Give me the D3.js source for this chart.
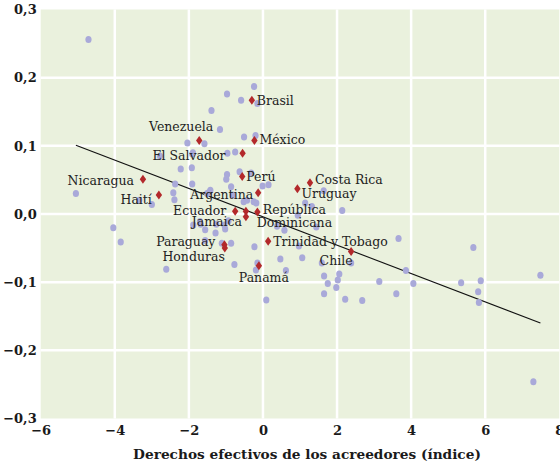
<!DOCTYPE html>
<html><head><meta charset="utf-8">
<script src="https://cdn.jsdelivr.net/npm/d3@7"></script>
<style>body{margin:0;background:#fff}svg{display:block}</style>
</head><body>
<svg id="c" width="560" height="465"></svg>
<script>
// ---- data ----
const xTicks = [-6,-4,-2,0,2,4,6,8];
const yTicks = [-0.3,-0.2,-0.1,0,0.1,0.2,0.3];
const xLabel = "Derechos efectivos de los acreedores (índice)";

// other countries (blue dots)
const otherX = [-4.71,-0.24,-0.97,-0.59,-0.15,-1.39,-1.16,-0.51,-0.20,-2.04,-1.58,
  -5.05,-2.78,-1.91,-0.96,-0.75,-2.22,-1.92,-0.97,-0.99,-0.63,-0.32,-2.37,-1.91,-1.42,-0.86,-0.01,0.15,
  -2.42,-2.39,-1.47,-0.82,-0.52,-0.43,-0.25,-0.18,-3.00,-3.34,-1.89,-1.51,
  1.64,2.14,1.14,1.32,0.94,0.58,1.44,3.66,0.97,1.06,0.47,1.59,2.38,0.62,1.65,2.06,2.02,1.75,1.98,1.65,2.22,2.68,
  3.14,3.60,3.86,4.06,5.35,5.68,5.88,5.81,5.83,7.49,7.30,0.09,
  -1.88,-1.68,-1.56,-1.26,-1.28,-1.02,-1.04,-1.56,-1.11,-0.86,-0.23,-0.77,-0.15,-0.19,-2.61,
  -4.04,-3.84,-0.93,-1.70,0.38];
const otherY = [0.256,0.187,0.176,0.167,0.162,0.152,0.124,0.113,0.115,0.104,0.103,
  0.030,0.085,0.088,0.089,0.091,0.066,0.068,0.058,0.051,0.062,0.060,0.044,0.044,0.035,0.040,0.041,0.043,
  0.031,0.021,0.031,0.028,0.018,0.020,0.018,0.016,0.014,0.020,0.090,0.030,
  0.034,0.005,0.016,0.011,-0.002,-0.024,-0.019,-0.036,-0.047,-0.064,-0.066,-0.072,-0.072,-0.083,-0.091,-0.088,-0.097,-0.102,-0.108,-0.117,-0.125,-0.127,
  -0.099,-0.117,-0.083,-0.102,-0.101,-0.049,-0.098,-0.114,-0.130,-0.090,-0.246,-0.126,
  -0.016,-0.015,-0.023,-0.015,-0.028,-0.022,-0.016,-0.039,-0.043,-0.043,-0.048,-0.074,-0.072,-0.082,-0.081,
  -0.020,-0.041,-0.010,-0.011,-0.018];

// Latin American countries (red diamonds)
const latNames = ["Brasil","México","Venezuela","El Salvador","Perú","Argentina","Nicaragua","Haití",
  "Costa Rica","Uruguay","Ecuador","Jamaica","","República Dominicana","Trinidad y Tobago","Paraguay","Honduras","Panamá","Chile"];
const latX = [-0.30,-0.23,-1.72,-0.55,-0.56,-0.13,-3.24,-2.81,1.27,0.93,-0.75,-0.46,-0.46,-0.15,0.14,-1.04,-1.03,-0.11,2.38];
const latY = [0.167,0.108,0.108,0.089,0.055,0.031,0.051,0.028,0.046,0.037,0.004,0.004,-0.004,0.003,-0.040,-0.045,-0.050,-0.076,-0.055];

// fitted line endpoints
const lineX = [-5.05, 7.49];
const lineY = [0.101, -0.160];

// ---- layout (label placement, px) ----
const labelPos = {
  "Brasil":[5,0,"start"], "México":[5,-1,"start"], "Venezuela":[14,-14,"end"],
  "El Salvador":[-17,2,"end"], "Perú":[4,0,"start"], "Argentina":[-5,2,"end"],
  "Nicaragua":[-9,1,"end"], "Haití":[-7,5,"end"], "Costa Rica":[5,-3,"start"],
  "Uruguay":[4,5,"start"], "Ecuador":[-9,-1,"end"], "Jamaica":[-4,10,"end"],
  "Trinidad y Tobago":[5,0,"start"], "Paraguay":[-9,-3,"end"], "Honduras":[0,9,"end"],
  "Panamá":[5,12,"middle"], "Chile":[-15,9,"middle"]
};

const svg = d3.select("#c");
const L = 40.7, R = 559.3, T = 9.5, B = 418.5;
const x = d3.scaleLinear().domain([-6,8]).range([L,R]);
const y = d3.scaleLinear().domain([-0.3,0.3]).range([B,T]);

svg.append("rect").attr("x",L).attr("y",T).attr("width",R-L).attr("height",B-T).attr("fill","#eaf1dd");

// grid
const g = svg.append("g");
g.selectAll("line.vx").data(xTicks.slice(1,-1)).join("line")
  .attr("x1",d=>x(d)).attr("x2",d=>x(d)).attr("y1",T).attr("y2",B)
  .attr("stroke","#fff").attr("stroke-width",2.5);
g.selectAll("line.hy").data(yTicks.slice(1,-1)).join("line")
  .attr("y1",d=>y(d)).attr("y2",d=>y(d)).attr("x1",L).attr("x2",R)
  .attr("stroke","#fff").attr("stroke-width",2.5);

// axes
const fmt = d => (d<0?"\u2212":"") + Math.abs(d).toFixed(1).replace(".",",");
const yAxis = svg.append("g").attr("transform",`translate(${L},0)`)
  .call(d3.axisLeft(y).tickValues(yTicks).tickFormat(fmt).tickSize(0).tickPadding(4));
const xAxis = svg.append("g").attr("transform",`translate(0,${B})`)
  .call(d3.axisBottom(x).tickValues(xTicks).tickFormat(d=>(d<0?"\u2212":"")+Math.abs(d)).tickSize(0).tickPadding(7));
[yAxis,xAxis].forEach(a=>{
  a.select(".domain").remove();
  a.selectAll("text").attr("font-family","DejaVu Serif").attr("font-weight","bold")
   .attr("font-size",13).attr("fill","#1a1a1a");
});

// regression line
svg.append("line").attr("x1",x(lineX[0])).attr("y1",y(lineY[0]))
  .attr("x2",x(lineX[1])).attr("y2",y(lineY[1])).attr("stroke","#111").attr("stroke-width",1.1);

// other dots
const others = otherX.map((v,i)=>({x:v,y:otherY[i]}));
svg.append("g").selectAll("ellipse").data(others).join("ellipse")
  .attr("cx",d=>x(d.x)).attr("cy",d=>y(d.y)).attr("rx",3.1).attr("ry",3.5)
  .attr("fill","#a9a9d9");

// labels
const lat = latNames.map((n,i)=>({n,x:latX[i],y:latY[i]}));
const lab = svg.append("g").attr("font-family","DejaVu Serif").attr("font-size",12.5).attr("fill","#222");
lat.forEach(d=>{
  if(!d.n) return;
  const px = x(d.x), py = y(d.y);
  if(d.n==="República Dominicana"){
    const t = lab.append("text").attr("text-anchor","middle");
    t.append("tspan").attr("x",px+37).attr("y",py-2).attr("dy","0.35em").text("República");
    t.append("tspan").attr("x",px+37).attr("y",py+11).attr("dy","0.35em").text("Dominicana");
    return;
  }
  const p = labelPos[d.n];
  lab.append("text").attr("x",px+p[0]).attr("y",py+p[1]).attr("dy","0.35em")
    .attr("text-anchor",p[2]).text(d.n);
});

// diamonds
svg.append("g").selectAll("path").data(lat).join("path")
  .attr("d",d=>{const px=x(d.x),py=y(d.y);return `M${px},${py-4.5}L${px+3.2},${py}L${px},${py+4.5}L${px-3.2},${py}Z`;})
  .attr("fill","#b3292b");

// x title
svg.append("text").attr("x",307).attr("y",454).attr("dy","0.35em").attr("text-anchor","middle")
  .attr("font-family","DejaVu Serif").attr("font-weight","bold").attr("font-size",13.7)
  .attr("fill","#1a1a1a").text(xLabel);
</script>
</body></html>
